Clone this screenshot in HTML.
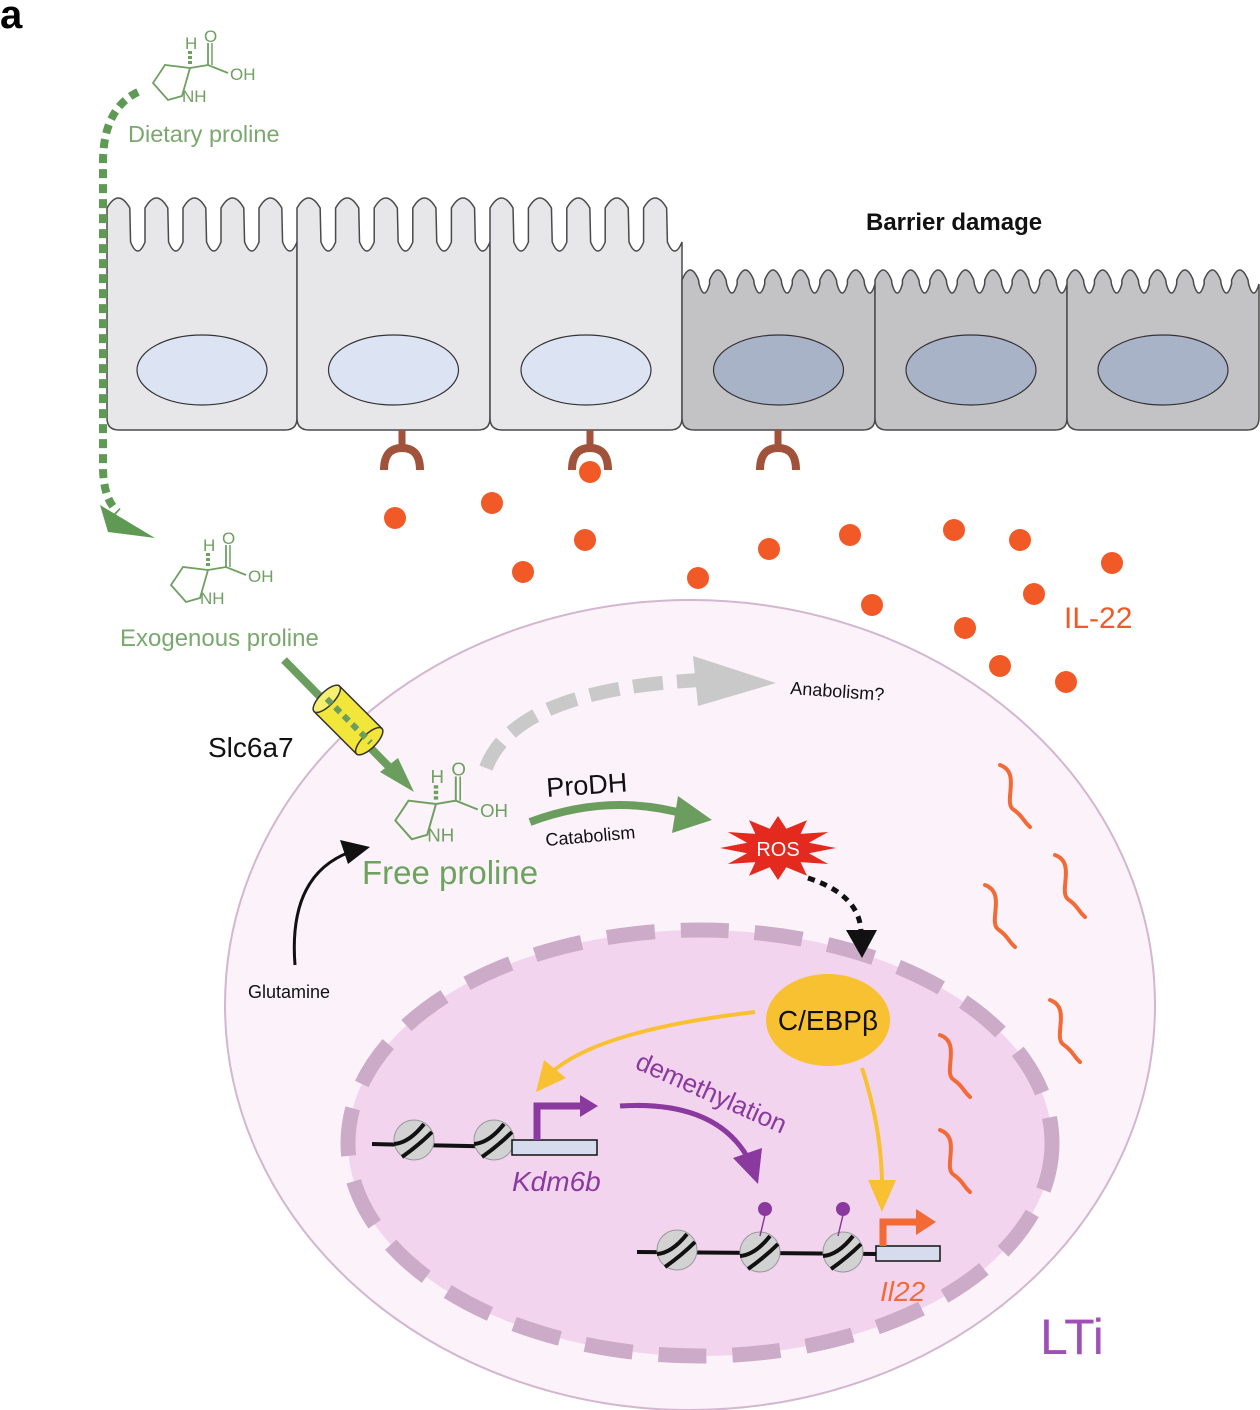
<!DOCTYPE html>
<html><head><meta charset="utf-8">
<style>
html,body{margin:0;padding:0;background:#fff;}
svg{display:block;font-family:"Liberation Sans",sans-serif;}
</style></head>
<body>
<svg id="fig" width="1260" height="1410" viewBox="0 0 1260 1410" xmlns="http://www.w3.org/2000/svg">
<rect width="1260" height="1410" fill="#fff"/>
<text x="0" y="28" font-size="40" font-weight="bold" fill="#000">a</text>

<ellipse cx="690" cy="1005" rx="465" ry="405" fill="#fcf2f9" stroke="#d3b6cf" stroke-width="2"/>
<ellipse cx="700" cy="1143" rx="352" ry="213" fill="#f3d4ee" stroke="#cbabc8" stroke-width="15" stroke-dasharray="48 26"/>

<g id="cells"></g>
<g id="dots"></g>
<g id="squig"></g>

<text x="866" y="230" font-size="24" font-weight="bold" fill="#111">Barrier damage</text>
<text x="1064" y="628" font-size="30" fill="#f05a28">IL-22</text>

<path d="M138,92 Q104,108 103,160 L103,470 Q104,500 118,512" fill="none" stroke="#5f9a55" stroke-width="8" stroke-dasharray="9 6"/>
<polygon points="100,505 155,538 108,532" fill="#5f9a55"/>

<g id="pro1"></g>
<text x="128" y="142" font-size="23.5" fill="#7aa86e">Dietary proline</text>
<g id="pro2"></g>
<text x="120" y="646" font-size="24" fill="#7aa86e">Exogenous proline</text>
<g id="pro3"></g>
<text x="362" y="884" font-size="33" fill="#6da35f">Free proline</text>

<line x1="284" y1="660" x2="398" y2="776" stroke="#6b9e5e" stroke-width="8"/>
<polygon points="380,772 414,792 398,758" fill="#6b9e5e"/>
<g transform="translate(348,720) rotate(-45)">
<rect x="-18" y="-30" width="36" height="60" fill="#f2e63a" stroke="#333" stroke-width="1.5"/>
<ellipse cx="0" cy="-30" rx="18" ry="7" fill="#f7ef70" stroke="#333" stroke-width="1.5"/>
<ellipse cx="0" cy="30" rx="18" ry="7" fill="#f2e63a" stroke="#333" stroke-width="1.5"/>
<line x1="0" y1="-30" x2="0" y2="32" stroke="#6b9e5e" stroke-width="6" stroke-dasharray="7 5"/>
</g>
<text x="208" y="757" font-size="28" fill="#111">Slc6a7</text>

<path d="M486,768 Q515,690 700,680" fill="none" stroke="#c9c9c9" stroke-width="14" stroke-dasharray="30 14"/>
<polygon points="693,656 776,683 698,706" fill="#c9c9c9"/>
<text x="790" y="694" font-size="18" fill="#111" transform="rotate(4 790 694)">Anabolism?</text>

<path d="M530,822 Q610,792 688,815" fill="none" stroke="#6b9e5e" stroke-width="8"/>
<polygon points="678,796 712,820 672,833" fill="#6b9e5e"/>
<text x="547" y="797" font-size="27" fill="#111" transform="rotate(-4 547 797)">ProDH</text>
<text x="546" y="846" font-size="18" fill="#111" transform="rotate(-5 546 846)">Catabolism</text>

<polygon id="ros" fill="#e42a1f"/>
<text x="778" y="856" font-size="20" fill="#fff" text-anchor="middle">ROS</text>

<path d="M808,878 Q860,895 861,932" fill="none" stroke="#111" stroke-width="5" stroke-dasharray="7 6"/>
<polygon points="846,930 862,958 877,930" fill="#111"/>

<path d="M295,965 Q288,875 350,852" fill="none" stroke="#111" stroke-width="3"/>
<polygon points="340,840 370,847 348,864" fill="#111"/>
<text x="248" y="998" font-size="18" fill="#111">Glutamine</text>

<ellipse cx="828" cy="1020" rx="62" ry="46" fill="#f8c131"/>
<text x="828" y="1030" font-size="28" fill="#111" text-anchor="middle">C/EBPβ</text>
<path d="M755,1012 Q600,1030 552,1072" fill="none" stroke="#f8c131" stroke-width="4"/>
<polygon points="536,1092 544,1060 566,1078" fill="#f8c131"/>
<path d="M862,1068 Q882,1130 882,1186" fill="none" stroke="#f8c131" stroke-width="4"/>
<polygon points="868,1180 882,1212 896,1180" fill="#f8c131"/>

<line x1="372" y1="1144" x2="512" y2="1147" stroke="#111" stroke-width="4"/>
<g id="nuc1"></g>
<rect x="512" y="1140" width="85" height="15" fill="#d6dbee" stroke="#111" stroke-width="1.5"/>
<path d="M537,1140 L537,1106 L582,1106" fill="none" stroke="#8a3a9e" stroke-width="7"/>
<polygon points="580,1095 598,1106 580,1117" fill="#8a3a9e"/>
<text x="512" y="1191" font-size="28" font-style="italic" fill="#8a3a9e">Kdm6b</text>

<path d="M620,1106 Q715,1100 748,1158" fill="none" stroke="#8a3a9e" stroke-width="5"/>
<polygon points="733,1158 758,1184 762,1148" fill="#8a3a9e"/>
<text x="634" y="1068" font-size="26" fill="#8a3a9e" transform="rotate(24 634 1068)">demethylation</text>

<line x1="637" y1="1252" x2="876" y2="1254" stroke="#111" stroke-width="4"/>
<g id="nuc2"></g>
<line x1="765" y1="1215" x2="760" y2="1236" stroke="#8a3a9e" stroke-width="1.5"/>
<circle cx="765" cy="1209" r="7" fill="#8a3a9e"/>
<line x1="843" y1="1215" x2="838" y2="1236" stroke="#8a3a9e" stroke-width="1.5"/>
<circle cx="843" cy="1209" r="7" fill="#8a3a9e"/>
<rect x="876" y="1246" width="64" height="15" fill="#d6dbee" stroke="#111" stroke-width="1.5"/>
<path d="M883,1246 L883,1222 L918,1222" fill="none" stroke="#f26a35" stroke-width="7"/>
<polygon points="916,1209 936,1222 916,1235" fill="#f26a35"/>
<text x="880" y="1301" font-size="28" font-style="italic" fill="#f26a35">Il22</text>

<text x="1040" y="1354" font-size="50" fill="#a04fb6">LTi</text>
</svg>
<script>
const NS="http://www.w3.org/2000/svg";
function mk(tag,attrs,parent){const e=document.createElementNS(NS,tag);for(const k in attrs)e.setAttribute(k,attrs[k]);parent.appendChild(e);return e;}
const cellG=document.getElementById('cells');
const cellXs=[107,297,490,682,875,1067,1259];
for(let c=0;c<6;c++){
  const x0=cellXs[c],x1=cellXs[c+1],dark=c>=3;
  const top=dark?270:198,base=dark?292:250,n=dark?7:5,w=(x1-x0)/n;
  let d=`M${x0},418 L${x0},${top+10} `;
  for(let i=0;i<n;i++){
    const a=x0+i*w;
    d+=`Q${a+w*0.3},${top-10} ${a+w*0.6},${top+10} L${a+w*0.62},${base-8} Q${a+w*0.81},${base+10} ${a+w},${base-8} `;
    if(i<n-1) d+=`L${a+w},${top+10} `;
  }
  d+=`L${x1},418 Q${x1},430 ${x1-12},430 L${x0+12},430 Q${x0},430 ${x0},418 Z`;
  const p=mk('path',{d:d,fill:dark?'#c3c3c5':'#e7e7e9',stroke:'#4a4a4a','stroke-width':1.5},cellG);
  
  
  const e=mk('ellipse',{cx:(x0+x1)/2,cy:370,rx:65,ry:35,fill:dark?'#a9b3c7':'#dce4f4',stroke:'#333','stroke-width':1.2},cellG);
  
  
}
[402,590,778].forEach(x=>{
  const g=mk('g',{},cellG);
  
  
  mk('line',{x1:x,y1:430,x2:x,y2:450,stroke:'#a0523a','stroke-width':7},g);
  mk('path',{d:`M${x-18},470 Q${x-18},448 ${x},448 Q${x+18},448 ${x+18},470`,fill:'none',stroke:'#a0523a','stroke-width':8},g);
});
const dotG=document.getElementById('dots');
[[395,518],[492,503],[590,472],[585,540],[523,572],[698,578],[769,549],[850,535],[872,605],[954,530],[1020,540],[1112,563],[1034,594],[965,628],[1000,666],[1066,682]].forEach(p=>{
  const c=mk('circle',{cx:p[0],cy:p[1],r:11,fill:'#f15a27'},dotG);
  
  
});
const sq=document.getElementById('squig');
[[1000,765],[1055,855],[985,885],[1050,1000],[940,1035],[940,1130]].forEach(p=>{
  const [x,y]=p;
  const s=mk('path',{d:`M${x},${y} C${x+22},${y+8} ${x+2},${y+38} ${x+14},${y+45} C${x+24},${y+52} ${x+22},${y+55} ${x+30},${y+62}`,fill:'none',stroke:'#f26a35','stroke-width':4,'stroke-linecap':'round'},sq);
  
  
});
function proline(id,tx,ty,s){
  const g=document.getElementById(id);
  g.setAttribute('transform',`translate(${tx},${ty}) scale(${s})`);
  const col='#6fa062';
  mk('path',{d:'M0,0 L-25,-3 L-37,15 L-22,32 L-8,28 Z M0,0 L18,-3 L38,5',fill:'none',stroke:col,'stroke-width':1.8},g);
  mk('line',{x1:18,y1:-3,x2:18,y2:-25,stroke:col,'stroke-width':1.8},g);
  mk('line',{x1:22,y1:-3,x2:22,y2:-25,stroke:col,'stroke-width':1.5},g);
  mk('line',{x1:0,y1:-4,x2:0,y2:-17,stroke:col,'stroke-width':4,'stroke-dasharray':'3 2'},g);
  const t=[['H',-5,-19],['O',14,-26],['OH',40,12],['NH',-8,34]];
  t.forEach(a=>{const e=mk('text',{x:a[1],y:a[2],'font-size':17,fill:col},g);e.textContent=a[0];});
}
proline('pro1',190,68,1);
proline('pro2',208,570,1);
proline('pro3',436,804,1.1);
const pts=[];const cx=778,cy=848,N=12;
for(let i=0;i<N*2;i++){const a=Math.PI*i/N;const rx=i%2?32:58,ry=i%2?20:32;pts.push((cx+Math.cos(a)*rx).toFixed(1)+','+(cy+Math.sin(a)*ry).toFixed(1));}
document.getElementById('ros').setAttribute('points',pts.join(' '));
function nuc(id,list){
  const g=document.getElementById(id);
  list.forEach(p=>{
    const n=mk('g',{},g);
    
    
    mk('circle',{cx:p[0],cy:p[1],r:20,fill:'#d2d2d2',stroke:'#999','stroke-width':1},n);
    mk('path',{d:`M${p[0]-20},${p[1]+4} Q${p[0]-5},${p[1]+3} ${p[0]+10},${p[1]-16} M${p[0]-12},${p[1]+17} Q${p[0]+5},${p[1]+5} ${p[0]+18},${p[1]-8}`,fill:'none',stroke:'#111','stroke-width':4},n);
  });
}
nuc('nuc1',[[414,1140],[494,1140]]);
nuc('nuc2',[[677,1250],[760,1252],[843,1252]]);
</script>
</body></html>
